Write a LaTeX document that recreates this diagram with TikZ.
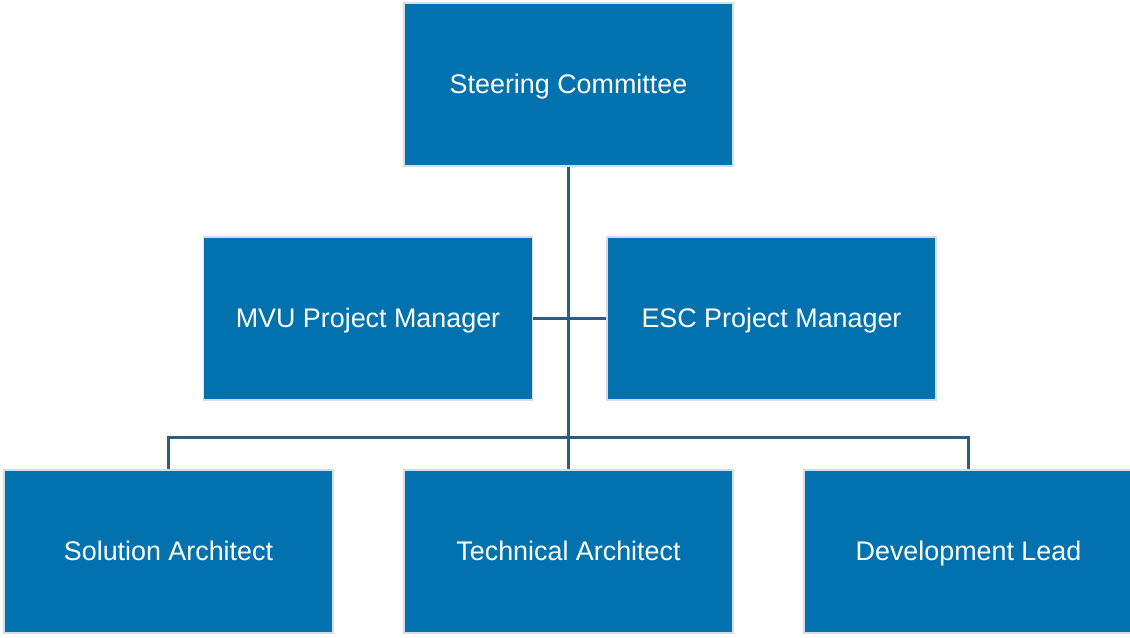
\documentclass[tikz,border=0pt]{standalone}
\usepackage{fontspec}
\setmainfont{Liberation Sans}
\usepackage{tikz}
\usetikzlibrary{positioning,calc}

\definecolor{boxblue}{HTML}{0172AE}
\definecolor{linkblue}{HTML}{2C5D80}
\definecolor{rimgray}{HTML}{D6DDE3}

\begin{document}
\begin{tikzpicture}[x=0.02cm,y=-0.02cm,
    rolebox/.style={draw=rimgray,line width=0.9pt,fill=boxblue,text=white,
      minimum width=6.58cm,minimum height=3.26cm,inner sep=0pt,
      text height=12pt,text depth=1.6pt,
      font=\fontsize{15.3}{18}\selectfont},
    link/.style={draw=linkblue,line width=1.7pt}]
    \useasboundingbox (0,0) rectangle (1130,637);

    % Top level
    \node[rolebox] (steer) at (568.5,84.5) {Steering Committee};

    % Project managers
    \node[rolebox] (mvu) at (368,318.5) {MVU Project Manager};
    \node[rolebox] (esc) at (771.5,318.5) {ESC Project Manager};

    % Team leads
    \node[rolebox] (sol) at (168.5,551.5) {Solution Architect};
    \node[rolebox] (tech) at (568.5,551.5) {Technical Architect};
    \node[rolebox] (dev) at (968.5,551.5) {Development Lead};

    % Connectors
    \coordinate (bus) at (568.5,437);
    \draw[link] (steer.south) -- (tech.north);
    \draw[link] (mvu.east) -- (esc.west);
    \draw[link] (sol.north) -- (sol.north |- bus) -- (dev.north |- bus) -- (dev.north);
\end{tikzpicture}
\end{document}
